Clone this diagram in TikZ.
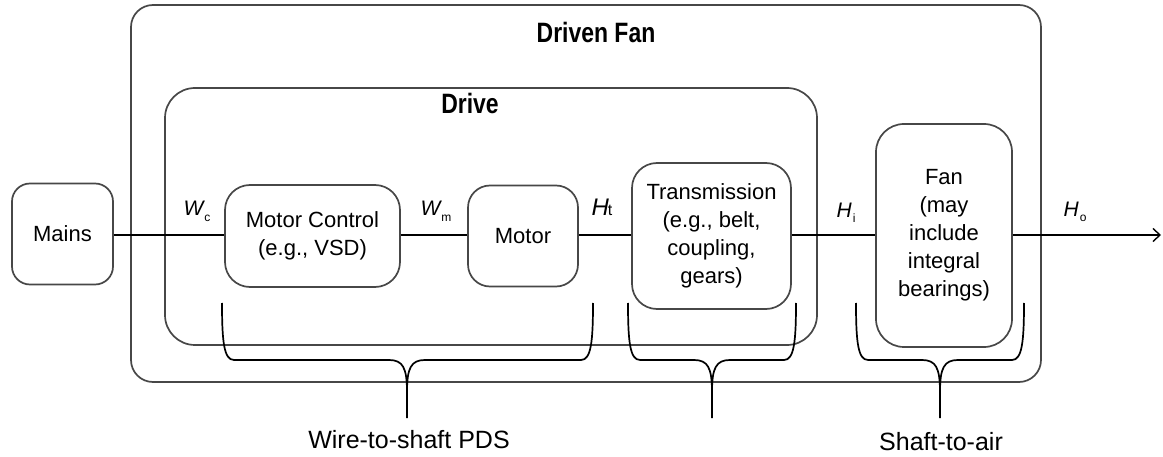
\documentclass[tikz,border=0pt]{standalone}
\usepackage{fontspec}
\setmainfont{Liberation Sans}
\newfontfamily\titlefont[FakeStretch=0.82]{Liberation Sans Bold}
\usetikzlibrary{arrows.meta}
\begin{document}
\begin{tikzpicture}[x=1pt,y=-1pt,
  box/.style={draw=black!72, line width=1.7pt, align=center, inner sep=0pt,
    font=\fontsize{22}{28}\selectfont},
  conn/.style={draw=black, line width=1.4pt},
  brace/.style={draw=black, line width=1.7pt},
  lbl/.style={inner sep=0pt, font=\fontsize{21}{21}\selectfont},
  title/.style={inner sep=0pt, font=\titlefont\fontsize{28}{28}\selectfont},
  bottom/.style={inner sep=0pt, font=\fontsize{25}{25}\selectfont, anchor=base}]
\useasboundingbox (0,0) rectangle (1163,457);
\fill[white] (0,0) rectangle (1163,457);
% containers
\node[box, rounded corners=22pt, minimum width=910pt, minimum height=377pt] (outer) at (586,193.5) {};
\node[box, rounded corners=30pt, minimum width=652pt, minimum height=257pt] (drive) at (491,216.5) {};
\node[title] (tdf) at (596,32) {Driven Fan};
\node[title] (tdr) at (470,103) {Drive};
% blocks
\node[box, rounded corners=18pt, minimum width=101pt, minimum height=101pt] (mains) at (62.5,234) {Mains};
\node[box, rounded corners=25pt, minimum width=175pt, minimum height=102pt] (mc) at (312.5,236) {Motor Control\\(e.g., VSD)};
\node[box, rounded corners=22pt, minimum width=110pt, minimum height=101pt] (motor) at (523,236) {Motor};
\node[box, rounded corners=25pt, minimum width=159pt, minimum height=146pt] (trans) at (711.5,236) {Transmission\\(e.g., belt,\\coupling,\\gears)};
\node[box, rounded corners=28pt, minimum width=136pt, minimum height=223pt] (fan) at (944,235.5) {Fan\\(may\\include\\integral\\bearings)};
\coordinate (out) at (1161,235);
% connectors
\draw[conn] (mains.east |- 0,235) -- (mc.west |- 0,235);
\draw[conn] (mc.east |- 0,235) -- (motor.west |- 0,235);
\draw[conn] (motor.east |- 0,235) -- (trans.west |- 0,235);
\draw[conn] (trans.east |- 0,235) -- (fan.west |- 0,235);
\draw[conn, -{Straight Barb[length=7pt,width=13pt,line width=1.4pt]}] (fan.east |- 0,235) -- (out);
% labels
\node[lbl] (wc) at (197,211) {\itshape W\kern1pt\raisebox{-6pt}{\upshape\fontsize{12}{12}\selectfont c}};
\node[lbl] (wm) at (436,211) {\itshape W\kern1pt\raisebox{-6pt}{\upshape\fontsize{12}{12}\selectfont m}};
\node[lbl] (ht) at (602,207) {\fontsize{24}{24}\selectfont\itshape H\kern-1pt\raisebox{0pt}{\upshape\fontsize{16}{16}\selectfont t}};
\node[lbl] (hi) at (846,213) {\itshape H\kern1pt\raisebox{-5pt}{\upshape\fontsize{12}{12}\selectfont i}};
\node[lbl] (ho) at (1075,212) {\itshape H\kern1pt\raisebox{-5pt}{\upshape\fontsize{12}{12}\selectfont o}};
% braces
\foreach \l/\m/\r [count=\i] in {222/407/593, 628/712/796, 856/940/1024}{
  \draw[brace] (\l,303) .. controls (\l,342) and (\l+2,360) .. (\l+12,360)
    -- (\m-18,360) .. controls (\m-4,360) and (\m,368) .. (\m,392) -- (\m,418);
  \draw[brace] (\r,303) .. controls (\r,342) and (\r-2,360) .. (\r-12,360)
    -- (\m+18,360) .. controls (\m+4,360) and (\m,368) .. (\m,392);
}
\node[bottom] (l1) at (409,448) {Wire-to-shaft PDS};
\node[bottom] (l2) at (941,450) {Shaft-to-air};
\end{tikzpicture}
\end{document}
